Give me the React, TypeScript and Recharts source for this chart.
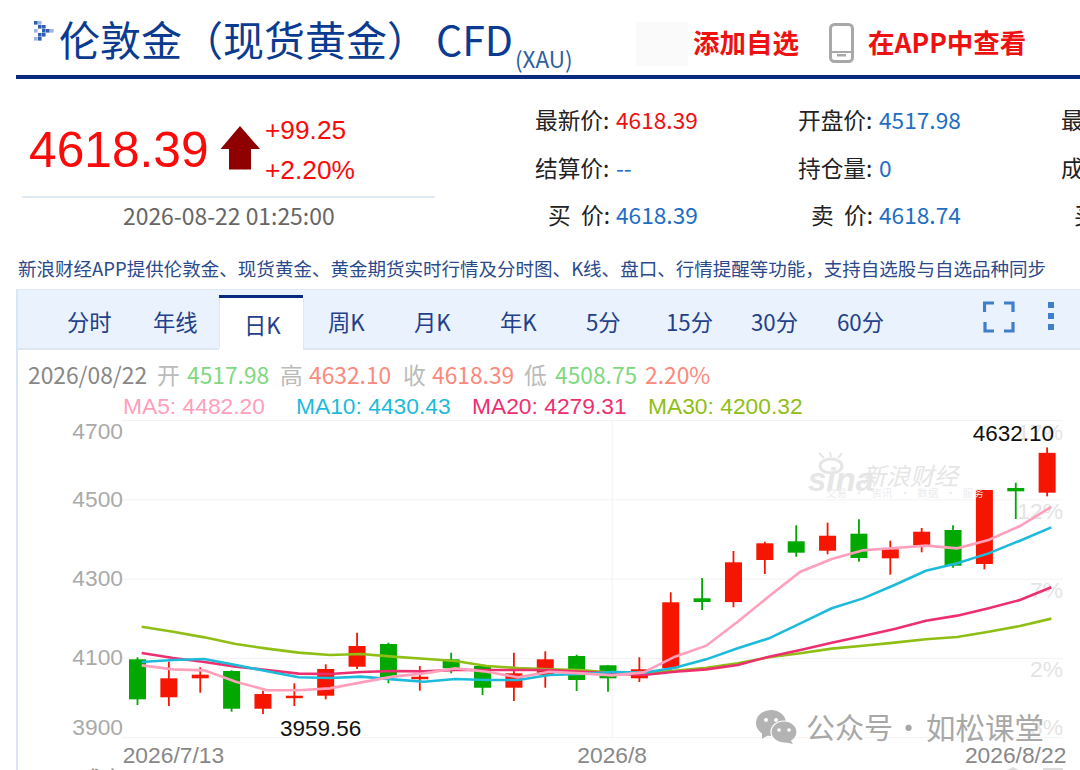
import React from 'react';
import { ComposedChart, Bar, Line, XAxis, YAxis, CartesianGrid, ReferenceLine } from 'recharts';

const CJK = '"Noto Sans CJK SC", "Noto Sans", sans-serif';
const ARIAL = '"Liberation Sans", Arial, sans-serif';

const RED = '#f51500';
const GREEN = '#00a800';
const MA5_COLOR = '#ff9fbb';
const MA10_COLOR = '#1dbbdb';
const MA20_COLOR = '#ee2f6f';
const MA30_COLOR = '#8fbe14';

const dates = [
  '2026/7/13', '2026/7/14', '2026/7/15', '2026/7/16', '2026/7/17',
  '2026/7/20', '2026/7/21', '2026/7/22', '2026/7/23', '2026/7/24',
  '2026/7/27', '2026/7/28', '2026/7/29', '2026/7/30', '2026/7/31',
  '2026/8', '2026/8/4', '2026/8/5', '2026/8/6', '2026/8/7',
  '2026/8/10', '2026/8/11', '2026/8/12', '2026/8/13', '2026/8/14',
  '2026/8/17', '2026/8/18', '2026/8/19', '2026/8/20', '2026/8/22',
];
const opens = [
  4097.7, 4001.9, 4049.8, 4068.2, 3973.1, 4001.9, 4005.9, 4079.0, 4136.3, 4049.8,
  4097.7, 4080.8, 4026.1, 4058.1, 4106.0, 4082.6, 4049.8, 4075.0, 4251.6, 4242.0,
  4348.2, 4395.3, 4371.6, 4414.5, 4352.4, 4386.0, 4423.8, 4338.1, 4529.8, 4517.98,
];
const closes = [
  3996.8, 4049.8, 4058.9, 3973.1, 4010.2, 4005.9, 4073.3, 4131.3, 4052.3, 4053.8,
  4075.0, 4026.0, 4062.4, 4097.7, 4045.5, 4049.8, 4072.6, 4241.5, 4242.2, 4342.3,
  4390.3, 4366.6, 4409.4, 4353.2, 4375.1, 4419.5, 4333.8, 4524.7, 4521.4, 4618.39,
];
const highs = [
  4102.8, 4091.7, 4077.5, 4070.0, 4018.5, 4037.2, 4085.1, 4164.8, 4139.6, 4080.8,
  4114.4, 4082.0, 4114.4, 4117.9, 4109.3, 4083.3, 4102.8, 4266.7, 4302.8, 4370.9,
  4394.3, 4435.7, 4442.3, 4450.8, 4396.8, 4428.9, 4435.7, 4525.0, 4543.1, 4632.1,
];
const lows = [
  3982.5, 3979.9, 4013.5, 3965.6, 3959.56, 3979.9, 3996.8, 4073.3, 4037.2, 4018.5,
  4062.4, 4007.7, 3992.6, 4026.1, 4017.8, 4016.0, 4040.5, 4070.7, 4222.0, 4228.9,
  4312.9, 4356.5, 4362.5, 4343.9, 4311.1, 4367.6, 4328.8, 4324.7, 4451.6, 4508.75,
];
const ma5 = [
  4082.5, 4072.4, 4069.9, 4041.3, 4019.5, 4019.5, 4024.5, 4039.6, 4054.0, 4062.3,
  4074.9, 4066.5, 4052.2, 4066.5, 4062.3, 4057.3, 4064.8, 4104.3, 4132.1, 4192.6,
  4256.5, 4318.7, 4350.6, 4372.5, 4378.4, 4384.3, 4377.5, 4398.6, 4433.9, 4482.2,
];
const ma10 = [
  4090.9, 4096.0, 4098.5, 4083.4, 4067.4, 4052.3, 4050.6, 4054.0, 4047.2, 4041.3,
  4048.0, 4045.5, 4045.5, 4058.1, 4060.6, 4065.7, 4064.0, 4076.6, 4097.6, 4125.4,
  4150.6, 4188.5, 4226.3, 4251.4, 4285.0, 4321.2, 4339.7, 4364.9, 4396.9, 4430.43,
];
const ma20 = [
  4113.6, 4101.0, 4090.9, 4079.2, 4070.8, 4061.5, 4060.7, 4065.7, 4068.2, 4067.4,
  4070.7, 4070.7, 4070.7, 4070.7, 4066.5, 4062.3, 4058.1, 4066.5, 4072.4, 4083.3,
  4104.4, 4121.2, 4139.7, 4156.5, 4174.2, 4195.2, 4207.8, 4226.3, 4247.3, 4279.31,
];
const ma30 = [
  4180.0, 4167.4, 4153.1, 4136.3, 4124.6, 4114.5, 4108.6, 4111.1, 4104.4, 4099.3,
  4093.4, 4080.8, 4075.7, 4072.4, 4070.7, 4064.0, 4062.3, 4069.0, 4076.6, 4087.5,
  4102.7, 4112.8, 4124.6, 4132.1, 4139.7, 4148.1, 4154.0, 4167.4, 4181.7, 4200.32,
];
const priceTicks = [3900, 4100, 4300, 4500, 4700];
const pctLabels = ['-3%', '2%', '7%', '12%', '17%'];
const dateTicks = ['2026/7/13', '2026/8', '2026/8/22'];
const tabs = ['分时', '年线', '日K', '周K', '月K', '年K', '5分', '15分', '30分', '60分'];
const tabLefts = [67, 153, 244, 328, 414, 500, 586, 666, 751, 837];

const rows = dates.map((date, i) => ({
  date,
  range: [lows[i], highs[i]],
  open: opens[i],
  close: closes[i],
  high: highs[i],
  low: lows[i],
  ma5: ma5[i],
  ma10: ma10[i],
  ma20: ma20[i],
  ma30: ma30[i],
}));

const maxHigh = Math.max(...highs);
const minLow = Math.min(...lows);

// candle body and wick, both placed from the range the Bar was given
function Candle(props: any) {
  const { x, y, width, height, payload } = props;
  const { open, close, high, low } = payload;
  const toY = (v: number) => y + ((high - v) / (high - low)) * height;
  const color = close >= open ? RED : GREEN;
  const cx = x + width / 2;
  const top = toY(Math.max(open, close));
  const bottom = toY(Math.min(open, close));
  return (
    <g>
      <line x1={cx} x2={cx} y1={y} y2={y + height} stroke={color} strokeWidth={1.8} />
      <rect x={x} y={top} width={width} height={Math.max(bottom - top, 2.5)} fill={color} />
      {high === maxHigh && (
        <text x={cx + 7} y={y - 6} textAnchor="end" fontSize={22.5} fontFamily={ARIAL} fill="#111">
          {high.toFixed(2)}
        </text>
      )}
      {low === minLow && (
        <text x={cx + 17} y={y + height + 22} fontSize={22.5} fontFamily={ARIAL} fill="#111">
          {low.toFixed(2)}
        </text>
      )}
    </g>
  );
}

function PriceTick({ x, y, payload }: any) {
  const v = payload.value;
  const dy = v === 4700 ? 18 : v === 3900 ? -3 : 7;
  return (
    <text x={x + 9} y={y + dy} textAnchor="end" fontSize={22.8} fontFamily={ARIAL} fill="#aaa">
      {v}
    </text>
  );
}

// percent scale on the right, hung off the price lines
function pctLabel(text: string) {
  return (props: any) => {
    const { x, y, width } = props.viewBox;
    return (
      <text x={x + width} y={y + (text === '-3%' ? -3 : 19)} textAnchor="end" fontSize={22.8} fontFamily={ARIAL} fill="#e4e4e4">
        {text}
      </text>
    );
  };
}

function DateTick({ x, y, payload }: any) {
  const v = payload.value;
  const anchor = v === '2026/7/13' ? 'start' : v === '2026/8/22' ? 'end' : 'middle';
  const nudge = v === '2026/7/13' ? -19 : v === '2026/8/22' ? 15 : 0;
  return (
    <text x={x + nudge} y={y + 17} textAnchor={anchor} fontSize={22.8} fontFamily={ARIAL} fill="#888">
      {v}
    </text>
  );
}

function T({ x, y, size = 22.7, color = '#222', font = CJK, weight = 400, children }: any) {
  // y is the vertical centre of the line; the CJK font sits a little low in its box
  const top = y - 30 - (font === CJK ? 1 : 0);
  return (
    <div
      style={{
        position: 'absolute',
        left: x,
        top,
        height: 60,
        lineHeight: '60px',
        fontSize: size,
        color,
        fontFamily: font,
        fontWeight: weight,
        whiteSpace: 'pre',
      }}
    >
      {children}
    </div>
  );
}

function Box({ x, y, w, h, bg }: any) {
  return <div style={{ position: 'absolute', left: x, top: y, width: w, height: h, background: bg }} />;
}

const sprite = [
  [2, 2], [6, 2], [6, 6], [10, 6], [2, 10], [10, 10], [14, 10], [18, 10], [6, 14], [10, 14], [2, 18], [6, 18],
];

function Header() {
  return (
    <>
      <svg style={{ position: 'absolute', left: 34, top: 21 }} width={22} height={22}>
        {sprite.map(([cx, cy], i) => (
          <rect key={i} x={cx - 2} y={cy - 2} width={3.6} height={3.6} fill={i % 3 === 1 ? '#9db4dc' : '#2f5fb0'} />
        ))}
      </svg>
      <T x={59} y={39} size={41} color="#0b3b91">伦敦金（现货黄金）</T>
      <T x={436} y={39} size={41} color="#0b3b91">CFD</T>
      <T x={515} y={59} size={22.5} color="#2f5f9f">(XAU)</T>
      <Box x={636} y={22} w={52} h={44} bg="#fafafa" />
      <T x={693} y={43} size={26.5} color="#ee1111" weight={700}>添加自选</T>
      <svg style={{ position: 'absolute', left: 829, top: 23 }} width={26} height={40}>
        <rect x={1.5} y={1.5} width={22} height={37} rx={4} fill="#fff" stroke="#a8a8a8" strokeWidth={3} />
        <rect x={8} y={31} width={9} height={2.5} fill="#a8a8a8" />
        <rect x={2} y={28} width={21} height={2} fill="#a8a8a8" />
      </svg>
      <T x={868} y={43} size={26.5} color="#ee1111" weight={700}>在APP中查看</T>
      <Box x={16} y={75} w={1064} h={3.5} bg="#0a2a80" />

      <T x={29} y={150} size={49.7} color="#fb0a0a" font={ARIAL}>4618.39</T>
      <svg style={{ position: 'absolute', left: 219, top: 123 }} width={42} height={48}>
        <polygon points="21,3 41,26 32,26 32,46.5 10,46.5 10,26 1.5,26" fill="#8f0000" />
      </svg>
      <T x={265} y={130} size={26.3} color="#fb0a0a" font={ARIAL}>+99.25</T>
      <T x={265} y={170} size={26.3} color="#fb0a0a" font={ARIAL}>+2.20%</T>
      <Box x={22} y={196} w={413} h={1.5} bg="#dfe8f3" />
      <T x={123} y={216} size={22.9} color="#666">2026-08-22 01:25:00</T>

      <T x={535} y={121}>最新价:</T>
      <T x={616} y={121} color="#ee1111">4618.39</T>
      <T x={535} y={169}>结算价:</T>
      <T x={616} y={169} color="#1e6fc4">--</T>
      <T x={548} y={216}>买</T>
      <T x={581} y={216}>价:</T>
      <T x={616} y={216} color="#1e6fc4">4618.39</T>
      <T x={798} y={121}>开盘价:</T>
      <T x={879} y={121} color="#1e6fc4">4517.98</T>
      <T x={798} y={169}>持仓量:</T>
      <T x={879} y={169} color="#1e6fc4">0</T>
      <T x={811} y={216}>卖</T>
      <T x={844} y={216}>价:</T>
      <T x={879} y={216} color="#1e6fc4">4618.74</T>
      <T x={1061} y={121}>最</T>
      <T x={1061} y={169}>成</T>
      <T x={1074} y={216}>买</T>

      <T x={18} y={269} size={18.53} color="#2b4a8c">新浪财经APP提供伦敦金、现货黄金、黄金期货实时行情及分时图、K线、盘口、行情提醒等功能，支持自选股与自选品种同步</T>
    </>
  );
}

function TabBar() {
  return (
    <>
      <Box x={17} y={289} w={1063} h={1.5} bg="#dde8f5" />
      <Box x={16} y={289} w={1.5} h={481} bg="#d8e6f5" />
      <Box x={17.5} y={290} w={1063} h={58} bg="#eaf2fd" />
      <Box x={17.5} y={348} w={1063} h={1.5} bg="#dfe7f5" />
      <Box x={219} y={298} w={84} h={52} bg="#fff" />
      <Box x={219} y={295} w={84} h={3} bg="#0a2a80" />
      <Box x={219} y={298} w={1} h={50} bg="#dfe7f5" />
      <Box x={302.5} y={298} w={1} h={50} bg="#dfe7f5" />
      {tabs.map((t, i) => (
        <T key={t} x={tabLefts[i]} y={i === 2 ? 325 : 322} size={22.3} color="#23408a">{t}</T>
      ))}
      <svg style={{ position: 'absolute', left: 983, top: 301 }} width={32} height={32}>
        <path d="M1.5 11V2H11 M21 2H30V11 M30 21V30H21 M11 30H2V21" fill="none" stroke="#3f7fca" strokeWidth={3.2} />
      </svg>
      <Box x={1048} y={302} w={6} h={6} bg="#3f7fca" />
      <Box x={1048} y={313} w={6} h={6} bg="#3f7fca" />
      <Box x={1048} y={324} w={6} h={6} bg="#3f7fca" />

      <T x={28} y={376} size={22.8} color="#888">2026/08/22</T>
      <T x={157} y={376} size={22.8} color="#bbb">开</T>
      <T x={187} y={376} size={22.8} color="#80d880">4517.98</T>
      <T x={280} y={376} size={22.8} color="#bbb">高</T>
      <T x={309} y={376} size={22.8} color="#fb8a7c">4632.10</T>
      <T x={403} y={376} size={22.8} color="#bbb">收</T>
      <T x={432} y={376} size={22.8} color="#fb8a7c">4618.39</T>
      <T x={524} y={376} size={22.8} color="#bbb">低</T>
      <T x={555} y={376} size={22.8} color="#80d880">4508.75</T>
      <T x={645} y={376} size={22.8} color="#fb8a7c">2.20%</T>

      <T x={123} y={406} size={22.8} color={MA5_COLOR} font={ARIAL}>MA5: 4482.20</T>
      <T x={296} y={406} size={22.8} color={MA10_COLOR} font={ARIAL}>MA10: 4430.43</T>
      <T x={472} y={406} size={22.8} color={MA20_COLOR} font={ARIAL}>MA20: 4279.31</T>
      <T x={648} y={406} size={22.8} color={MA30_COLOR} font={ARIAL}>MA30: 4200.32</T>
    </>
  );
}

function Watermarks() {
  return (
    <>
      <T x={808} y={480} size={33} color="#e6e6e6" font={ARIAL} weight={700}>
        <i>sina</i>
      </T>
      <svg style={{ position: 'absolute', left: 816, top: 452 }} width={36} height={22}>
        <ellipse cx={15} cy={14} rx={11} ry={7} fill="none" stroke="#e6e6e6" strokeWidth={3} />
        <path d="M8 6 L3 1 M15 5 L14 0 M22 6 L26 1" stroke="#e6e6e6" strokeWidth={2} />
      </svg>
      <T x={862} y={476} size={24} color="#e6e6e6">
        <i>新浪财经</i>
      </T>
      <T x={826} y={494} size={10.5} color="#ececec">{'交易   ·   资讯   ·   数据   ·   服务'}</T>

      <svg style={{ position: 'absolute', left: 756, top: 709 }} width={42} height={36}>
        <ellipse cx={15} cy={14} rx={15} ry={13} fill="#b3b3b3" />
        <polygon points="6,22 6,30 14,25" fill="#b3b3b3" />
        <ellipse cx={28} cy={23} rx={13} ry={11} fill="#b3b3b3" stroke="#fff" strokeWidth={1.2} />
        <polygon points="34,30 37,35 28,33" fill="#b3b3b3" />
        <circle cx={10} cy={11} r={2} fill="#fff" />
        <circle cx={20} cy={11} r={2} fill="#fff" />
        <circle cx={23} cy={21} r={1.8} fill="#fff" />
        <circle cx={33} cy={21} r={1.8} fill="#fff" />
      </svg>
      <T x={806} y={727} size={29} color="#a8a8a8">公众号</T>
      <T x={894} y={727} size={29} color="#a8a8a8">·</T>
      <T x={926} y={727} size={29.5} color="#a8a8a8">如松课堂</T>

      <T x={80} y={778} size={22} color="#888">成交: VOL: 0</T>
      <T x={315} y={778} size={22} color={MA5_COLOR} font={ARIAL}>MA5: 0</T>
      <T x={487} y={778} size={22} color={MA10_COLOR} font={ARIAL}>MA10: 0</T>
      <svg style={{ position: 'absolute', left: 1005, top: 766 }} width={16} height={4}>
        <polygon points="8,1 14,4 2,4" fill="#ddd" />
      </svg>
      <Box x={1043} y={768} w={20} h={2} bg="#ddd" />
    </>
  );
}

export default function App() {
  return (
    <div style={{ position: 'fixed', left: 0, top: 0, width: 1080, height: 770, overflow: 'hidden', background: '#fff' }}>
      <Header />
      <TabBar />
      <div style={{ position: 'absolute', left: 0, top: 0 }}>
        <ComposedChart
          width={1080}
          height={770}
          data={rows}
          margin={{ left: 72, right: 17, top: 420.5, bottom: 0 }}
        >
          <CartesianGrid
            stroke="#f2f2f2"
            xAxisId="ma"
            yAxisId="price"
            horizontalValues={priceTicks}
            verticalValues={['2026/8']}
          />
          <XAxis
            xAxisId="ma"
            dataKey="date"
            padding={{ left: 4, right: -4 }}
            height={32.3}
            ticks={dateTicks}
            interval={0}
            tick={<DateTick />}
            axisLine={false}
            tickLine={false}
          />
          <XAxis xAxisId="candle" dataKey="date" height={0} tick={false} axisLine={false} tickLine={false} />
          <YAxis
            yAxisId="price"
            width={50}
            domain={[3900, 4700]}
            ticks={priceTicks}
            interval={0}
            tick={<PriceTick />}
            axisLine={false}
            tickLine={false}
          />
          {priceTicks.map((p, i) => (
            <ReferenceLine
              key={p}
              xAxisId="candle"
              yAxisId="price"
              y={p}
              stroke="none"
              zIndex={-1}
              label={pctLabel(pctLabels[i])}
            />
          ))}
          <Bar xAxisId="candle" yAxisId="price" dataKey="range" barSize={17} shape={<Candle />} isAnimationActive={false} />
          <Line xAxisId="ma" yAxisId="price" dataKey="ma30" stroke={MA30_COLOR} strokeWidth={2.6} dot={false} isAnimationActive={false} />
          <Line xAxisId="ma" yAxisId="price" dataKey="ma20" stroke={MA20_COLOR} strokeWidth={2.6} dot={false} isAnimationActive={false} />
          <Line xAxisId="ma" yAxisId="price" dataKey="ma10" stroke={MA10_COLOR} strokeWidth={2.6} dot={false} isAnimationActive={false} />
          <Line xAxisId="ma" yAxisId="price" dataKey="ma5" stroke={MA5_COLOR} strokeWidth={2.6} dot={false} isAnimationActive={false} />
        </ComposedChart>
      </div>
      <Watermarks />
    </div>
  );
}
